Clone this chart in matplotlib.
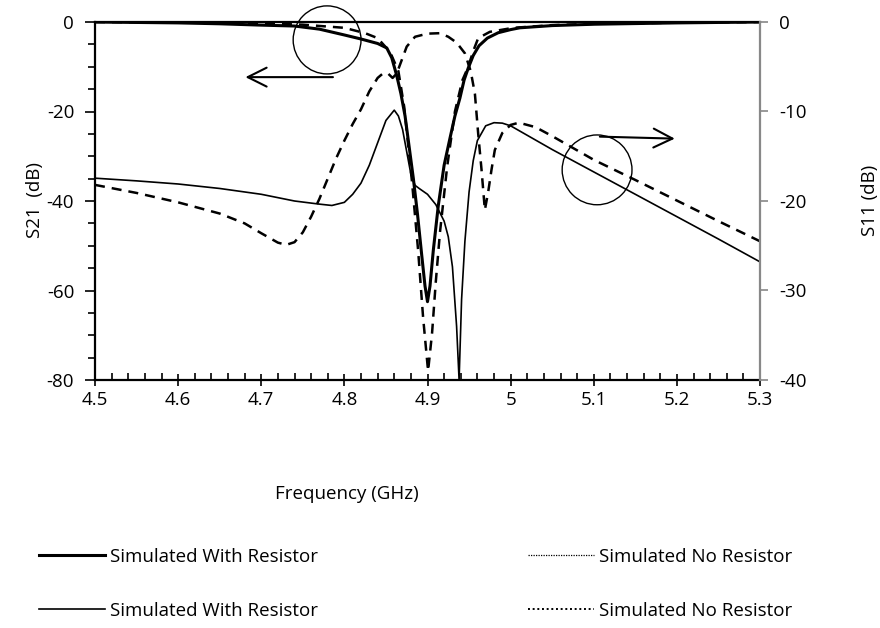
import numpy as np
import matplotlib.pyplot as plt
from matplotlib.lines import Line2D
from matplotlib.patches import Ellipse
from matplotlib.ticker import MultipleLocator

plt.rcParams['font.family'] = ['Open Sans', 'DejaVu Sans']
plt.rcParams['axes.unicode_minus'] = False

# S21 with resistor (dB)
f_s21_res = [4.5, 4.6, 4.65, 4.7, 4.74, 4.77, 4.8, 4.82, 4.84, 4.851, 4.857, 4.863,
             4.868, 4.873, 4.878, 4.883, 4.888, 4.893, 4.897, 4.9, 4.903, 4.907,
             4.913, 4.92, 4.927, 4.933, 4.939, 4.944, 4.949, 4.955, 4.962, 4.972,
             4.985, 5.0, 5.011, 5.05, 5.1, 5.2, 5.3]
s21_res = [0, -0.2, -0.4, -0.7, -0.9, -1.6, -2.9, -3.8, -4.8, -5.8, -8, -12,
           -16, -21, -28, -35, -43, -52, -59, -62.5, -59, -51,
           -41, -32, -26, -21, -17, -13, -10.3, -7.5, -5.3, -3.6,
           -2.4, -1.7, -1.3, -0.8, -0.5, -0.2, 0]

# S21 without resistor (dB)
f_s21_nores = [4.5, 4.6, 4.7, 4.75, 4.8, 4.825, 4.84, 4.855, 4.865, 4.872, 4.8815,
               4.8887, 4.8947, 4.9007, 4.9055, 4.91, 4.915, 4.9236, 4.933, 4.942,
               4.949, 4.955, 4.961, 4.975, 5.003, 5.05, 5.1, 5.2, 5.3]
s21_nores = [0, -0.1, -0.3, -0.6, -1.3, -2.5, -3.6, -6.7, -11, -19, -36,
             -51, -66, -78, -69.5, -58, -47, -32.4, -20, -13,
             -10, -6.5, -3.6, -2.2, -1.3, -0.7, -0.4, -0.15, 0]

# S11 with resistor (dB)
f_s11_res = [4.5, 4.55, 4.6, 4.65, 4.7, 4.74, 4.77, 4.785, 4.8, 4.81, 4.82, 4.83,
             4.84, 4.85, 4.86, 4.865, 4.87, 4.875, 4.88, 4.885, 4.89, 4.9, 4.91,
             4.92, 4.925, 4.93, 4.935, 4.938, 4.941, 4.945, 4.95, 4.955, 4.96,
             4.97, 4.98, 4.99, 5.0, 5.05, 5.1, 5.15, 5.2, 5.25, 5.3]
s11_res = [-17.45, -17.75, -18.1, -18.6, -19.25, -20.0, -20.35, -20.5, -20.15, -19.25, -18, -16,
           -13.5, -11, -9.85, -10.5, -12, -14.5, -17, -18.25, -18.6, -19.25, -20.4,
           -22.25, -24, -27.35, -34, -40, -31, -24.5, -19, -15.5, -13.25,
           -11.6, -11.25, -11.3, -11.6, -14.25, -16.75, -19.25, -21.75, -24.25, -26.8]

# S11 without resistor (dB)
f_s11_nores = [4.5, 4.55, 4.6, 4.65, 4.68, 4.7, 4.72, 4.73, 4.74, 4.75, 4.76, 4.77,
               4.78, 4.79, 4.8, 4.81, 4.82, 4.83, 4.84, 4.847, 4.853, 4.858, 4.863,
               4.868, 4.875, 4.885, 4.9, 4.915, 4.925, 4.935, 4.945, 4.952, 4.957,
               4.961, 4.965, 4.969, 4.973, 4.977, 4.981, 4.99, 5.0, 5.01, 5.03,
               5.05, 5.1, 5.15, 5.2, 5.25, 5.3]
s11_nores = [-18.2, -19.1, -20.15, -21.4, -22.5, -23.6, -24.65, -24.9, -24.6, -23.5, -21.75, -19.75,
             -17.5, -15.25, -13.25, -11.4, -9.75, -7.75, -6.25, -5.7, -5.8, -6.25, -5.75,
             -4.5, -2.75, -1.65, -1.3, -1.25, -1.65, -2.3, -3.5, -5.5, -8,
             -12.5, -16.5, -21, -19, -16.5, -14.3, -12.4, -11.5, -11.25, -11.75,
             -12.75, -15.4, -17.65, -19.95, -22.25, -24.5]

xtick_labels = ['4.5', '4.6', '4.7', '4.8', '4.9', '5', '5.1', '5.2', '5.3']

fig = plt.figure(figsize=(8.8, 6.28), dpi=100)
ax = fig.add_axes([95/880, 1-380/628, 665/880, 358/628])
ax2 = ax.twinx()

ax.plot(f_s21_res, s21_res, color='black', lw=2.2, zorder=3)
ax.plot(f_s21_nores, s21_nores, color='black', lw=1.8, dashes=(4, 2.8), zorder=3)
ax2.plot(f_s11_res, s11_res, color='black', lw=1.2)
ax2.plot(f_s11_nores, s11_nores, color='black', lw=1.8, dashes=(4, 2.8))

ax.set_xlim(4.5, 5.3)
ax.set_ylim(-80, 0)
ax2.set_ylim(-40, 0)

ax.xaxis.set_minor_locator(MultipleLocator(0.02))
ax.yaxis.set_major_locator(MultipleLocator(20))
ax.yaxis.set_minor_locator(MultipleLocator(5))
ax2.yaxis.set_major_locator(MultipleLocator(10))
ax.set_xticks(np.linspace(4.5, 5.3, len(xtick_labels)))
ax.set_xticklabels(xtick_labels)

fs = 13.5
ax.tick_params(axis='x', which='major', direction='inout', length=8, width=1.2, labelsize=fs, pad=4)
ax.tick_params(axis='x', which='minor', direction='in', length=5, width=1.2)
ax.tick_params(axis='y', which='major', direction='out', length=7, width=1.2, labelsize=fs, pad=8)
ax.tick_params(axis='y', which='minor', direction='out', length=5, width=1.2)
ax2.tick_params(axis='y', which='major', direction='out', length=6, width=1.2, color='#888888',
                labelsize=fs, pad=8)

for s in ['left', 'bottom', 'top']:
    ax.spines[s].set_linewidth(1.6)
ax.spines['right'].set_visible(False)
for s in ['left', 'bottom', 'top']:
    ax2.spines[s].set_visible(False)
ax2.spines['right'].set_color('#888888')
ax2.spines['right'].set_linewidth(1.6)

fig.text(35/880, 1-200/628, 'S21  (dB)', rotation=90, ha='center', va='center', fontsize=fs)
fig.text(870/880, 1-200/628, 'S11 (dB)', rotation=90, ha='center', va='center', fontsize=fs)
fig.text(347/880, 1-494/628, 'Frequency (GHz)', ha='center', va='center', fontsize=fs)

# circles and arrows marking which axis each pair belongs to
ax.add_patch(Ellipse((0.349, 0.95), 0.102, 0.19, transform=ax.transAxes,
                     fill=False, lw=1.0, color='black', clip_on=False, zorder=4))
ax.add_patch(Ellipse((0.755, 0.587), 0.105, 0.195, transform=ax.transAxes,
                     fill=False, lw=1.0, color='black', clip_on=False, zorder=4))
ax.annotate('', xy=(0.222, 0.846), xytext=(0.362, 0.846), xycoords='axes fraction',
            arrowprops=dict(arrowstyle='->', lw=1.5, color='black', mutation_scale=34))
ax.annotate('', xy=(0.876, 0.674), xytext=(0.755, 0.68), xycoords='axes fraction',
            arrowprops=dict(arrowstyle='->', lw=1.5, color='black', mutation_scale=34))

handles = [Line2D([], [], color='black', lw=2.2),
           Line2D([], [], color='black', lw=1.2),
           Line2D([], [], color='black', lw=0.9, dashes=(1, 1)),
           Line2D([], [], color='black', lw=1.4, dashes=(1, 1.4))]
labels = ['Simulated With Resistor', 'Simulated With Resistor',
          'Simulated No Resistor', 'Simulated No Resistor']
fig.legend(handles, labels, ncol=2, loc='upper left', bbox_to_anchor=(22/880, 1-531/628),
           frameon=False, fontsize=fs, handlelength=3.5, handletextpad=0.3,
           labelspacing=1.9, columnspacing=11.2)

fig.savefig('out.png', dpi=100)
